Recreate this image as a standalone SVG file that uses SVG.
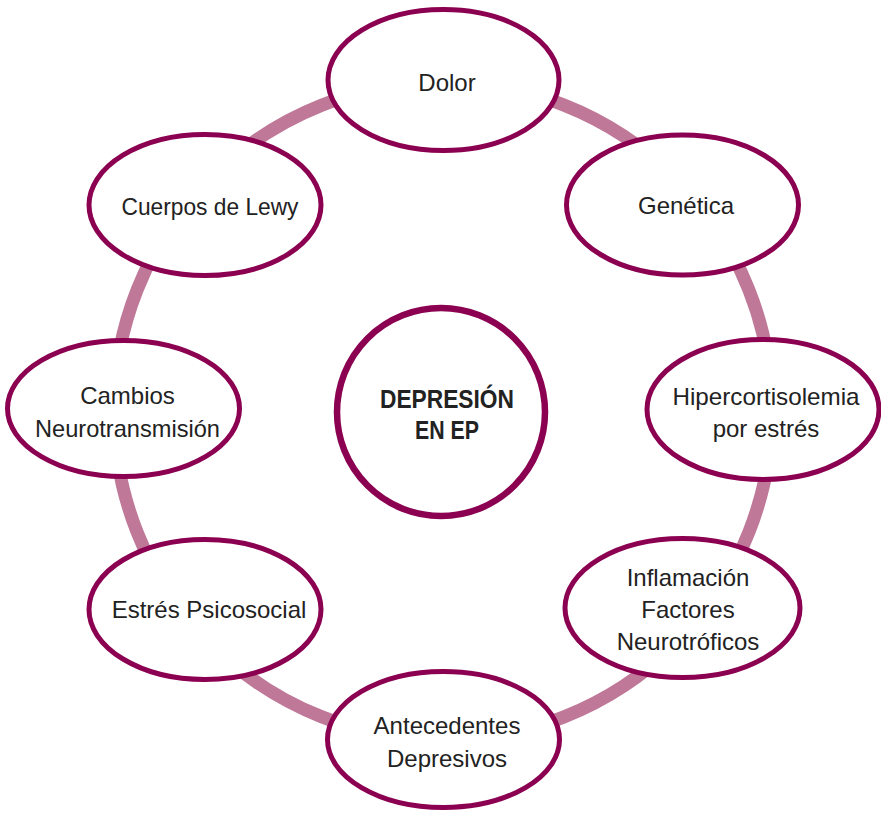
<svg xmlns="http://www.w3.org/2000/svg" width="881" height="813" viewBox="0 0 881 813">
<style>
.node ellipse{fill:#fff;stroke:#8b0050;stroke-width:5}
.lbl{font-family:"Liberation Sans",Arial,sans-serif;font-size:24px;fill:#222;text-anchor:middle}
.center circle{fill:#fff;stroke:#8b0050;stroke-width:6.5}
.ctext{font-family:"Liberation Sans",Arial,sans-serif;font-size:26px;font-weight:bold;fill:#222;text-anchor:middle}
</style>
<rect width="881" height="813" fill="#fff"/>
<g id="connectors">
<circle cx="443" cy="411" r="329" fill="none" stroke="#bf7898" stroke-width="13"/>
</g>
<g id="center" class="center">
<circle cx="441" cy="412" r="104"/>
<text class="ctext" x="447" y="408" textLength="134" lengthAdjust="spacingAndGlyphs">DEPRESIÓN</text>
<text class="ctext" x="447" y="439" textLength="64" lengthAdjust="spacingAndGlyphs">EN EP</text>
</g>
<g id="dolor" class="node">
<ellipse cx="443.5" cy="80" rx="115.5" ry="70.5"/>
<text class="lbl" x="447" y="91">Dolor</text>
</g>
<g id="genetica" class="node">
<ellipse cx="682.5" cy="205" rx="116" ry="70"/>
<text class="lbl" x="686" y="214">Genética</text>
</g>
<g id="hipercortisolemia" class="node">
<ellipse cx="763" cy="409.5" rx="116" ry="70"/>
<text class="lbl" x="766" y="405" textLength="187" lengthAdjust="spacingAndGlyphs">Hipercortisolemia</text>
<text class="lbl" x="766" y="437">por estrés</text>
</g>
<g id="inflamacion" class="node">
<ellipse cx="682.5" cy="608" rx="117.5" ry="69.5"/>
<text class="lbl" x="688" y="586">Inflamación</text>
<text class="lbl" x="688" y="618">Factores</text>
<text class="lbl" x="688" y="650">Neurotróficos</text>
</g>
<g id="antecedentes" class="node">
<ellipse cx="443.5" cy="739.5" rx="116" ry="68"/>
<text class="lbl" x="447" y="734">Antecedentes</text>
<text class="lbl" x="447" y="767">Depresivos</text>
</g>
<g id="estres" class="node">
<ellipse cx="205" cy="609.5" rx="116" ry="70"/>
<text class="lbl" x="209" y="618">Estrés Psicosocial</text>
</g>
<g id="cambios" class="node">
<ellipse cx="123.5" cy="408.5" rx="116" ry="68"/>
<text class="lbl" x="127.5" y="404">Cambios</text>
<text class="lbl" x="127.5" y="436.5" textLength="185" lengthAdjust="spacingAndGlyphs">Neurotransmisión</text>
</g>
<g id="lewy" class="node">
<ellipse cx="205" cy="205" rx="116" ry="70.5"/>
<text class="lbl" x="210" y="215" textLength="177" lengthAdjust="spacingAndGlyphs">Cuerpos de Lewy</text>
</g>
</svg>
